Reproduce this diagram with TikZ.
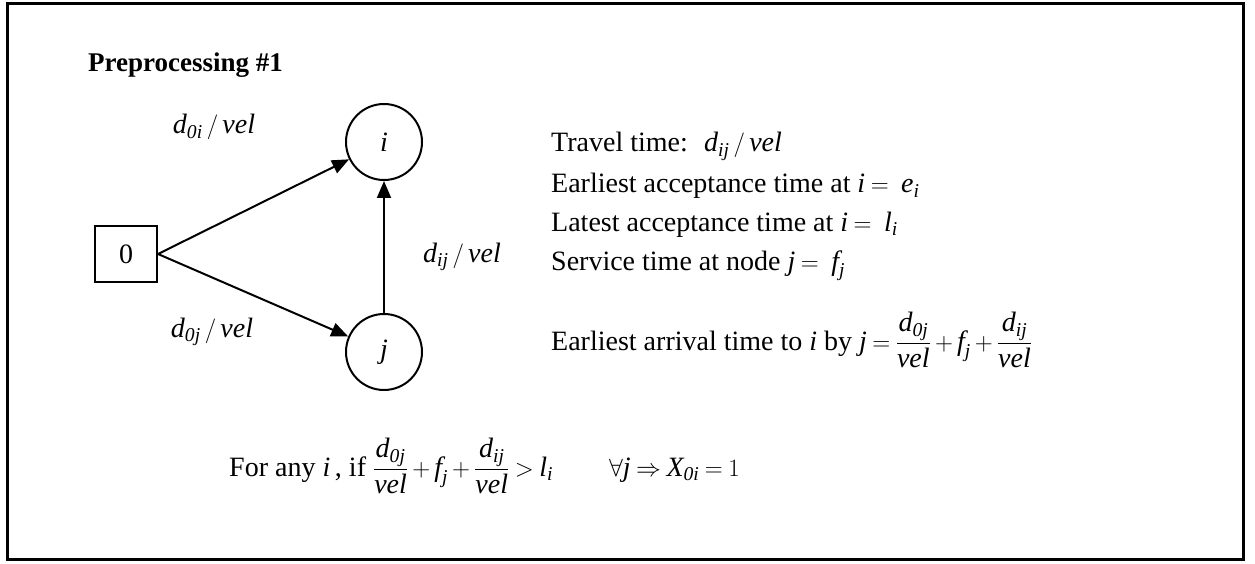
\documentclass[tikz,border=0pt]{standalone}
\usepackage{amsmath}
\usepackage{fontspec}
\setmainfont{Liberation Serif}
\usetikzlibrary{arrows.meta}
\newcommand{\mi}[1]{\textit{#1}}
\begin{document}
\begin{tikzpicture}[x=1pt,y=-1pt,
  every node/.style={font=\fontsize{28}{32}\selectfont},
  nodecirc/.style={draw,circle,line width=2pt,minimum size=76pt,inner sep=0pt},
  nodebox/.style={draw,rectangle,line width=2pt,minimum width=62pt,minimum height=56pt,inner sep=0pt},
  arc/.style={line width=2pt,-{Triangle[length=17pt,width=14pt]}},
  txt/.style={anchor=base west,inner sep=0pt}]
\useasboundingbox (0,0) rectangle (1255,564);
\draw[line width=3pt] (7,4) rectangle (1243,559);
\node[txt,font=\fontsize{27}{32}\selectfont\bfseries] (title) at (88,72) {Preprocessing \#1};
\node[nodebox] (n0) at (126,254) {0};
\node[nodecirc] (ni) at (384,142) {\mi{i}};
\node[nodecirc] (nj) at (384,352) {\mi{j}};
\draw[arc] (n0.east) -- (ni);
\draw[arc] (n0.east) -- (nj);
\draw[arc] (nj) -- (ni);
\node[inner sep=0pt] (l0i) at (214,127) {$\mi{d}_{\mi{0i}}\,/\,\mi{vel}$};
\node[inner sep=0pt] (lij) at (462,257) {$\mi{d}_{\mi{ij}}\,/\,\mi{vel}$};
\node[inner sep=0pt] (l0j) at (212,332) {$\mi{d}_{\mi{0j}}\,/\,\mi{vel}$};
\begin{scope}[every node/.append style={execute at begin node={\medmuskip=3mu\thickmuskip=4mu}}]
\node[txt] (t1) at (551,152) {Travel time: \ $\mi{d}_{\mi{ij}}\,/\,\mi{vel}$};
\node[txt] (t2) at (551,193) {Earliest acceptance time at $\mi{i}=\ \mi{e}_{\mi{i}}$};
\node[txt] (t3) at (551,231) {Latest acceptance time at $\mi{i}=\ \mi{l}_{\mi{i}}$};
\node[txt] (t4) at (551,270) {Service time at node $\mi{j}=\ \mi{f}_{\mi{j}}$};
\node[txt] (t5) at (551,350) {Earliest arrival time to $\mi{i}$ by $\mi{j}=\dfrac{\mi{d}_{\mi{0j}}}{\mi{vel}}+\mi{f}_{\mi{j}}+\dfrac{\mi{d}_{\mi{ij}}}{\mi{vel}}$};
\node[txt] (t6) at (229,476) {For any $\mi{i}$\,, if $\dfrac{\mi{d}_{\mi{0j}}}{\mi{vel}}+\mi{f}_{\mi{j}}+\dfrac{\mi{d}_{\mi{ij}}}{\mi{vel}}>\mi{l}_{\mi{i}}\qquad\forall \mi{j}\Rightarrow \mi{X}_{\mi{0i}}=1$};
\end{scope}
\end{tikzpicture}
\end{document}
